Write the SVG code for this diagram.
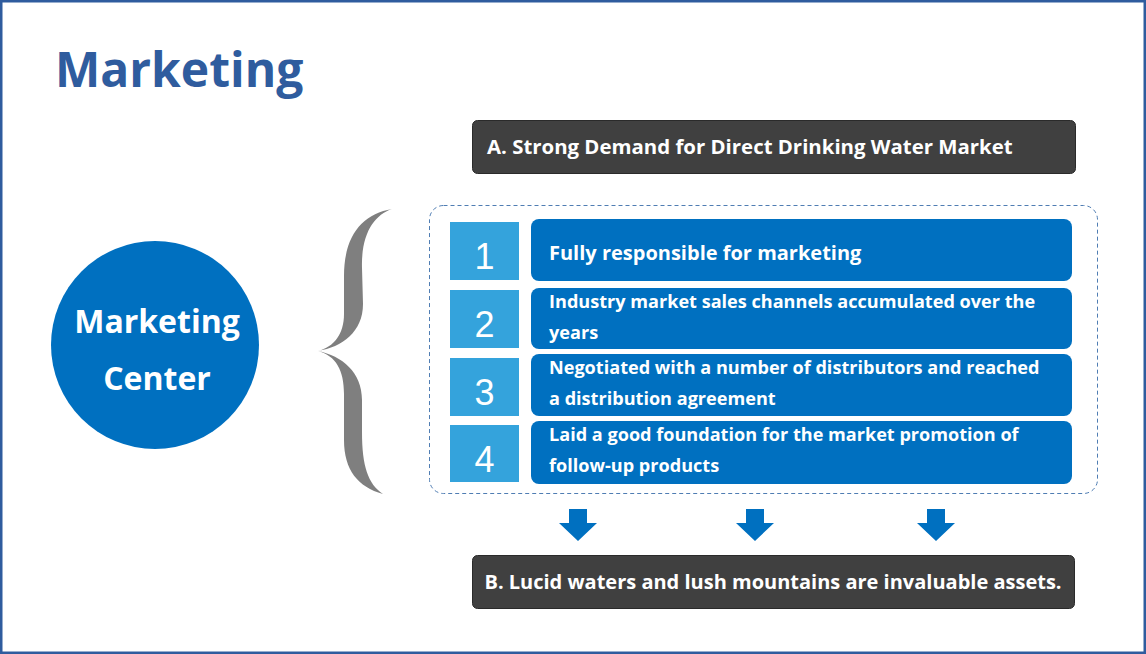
<svg xmlns="http://www.w3.org/2000/svg" width="1146" height="654" viewBox="0 0 1146 654">
<style>
.frame{fill:#ffffff;stroke:#2F5C9E;stroke-width:2.5}
.title{font-family:"Open Sans","Noto Sans",sans-serif;font-weight:700;font-size:48px;fill:#2F5C9E}
.dark{fill:#404040;stroke:#2a2a2a;stroke-width:1}
.darkt{font-family:"Open Sans","Noto Sans",sans-serif;font-weight:700;font-size:20px;fill:#ffffff}
.blue{fill:#0070C0}
.sq{fill:#34A3DC}
.num{font-family:"Liberation Sans",Arial,sans-serif;font-size:36px;fill:#ffffff;text-anchor:middle}
.bt{font-family:"Open Sans","Noto Sans",sans-serif;font-weight:700;font-size:18.1px;fill:#ffffff}
.bt1{font-size:20px}
.ta{font-size:20.4px}
.ct{font-family:"Open Sans","Noto Sans",sans-serif;font-weight:700;font-size:32px;fill:#ffffff;text-anchor:middle}
.dash{fill:none;stroke:#4F7DB3;stroke-width:1;stroke-dasharray:4 3}
.brace{fill:#7F7F7F}
</style>
<rect class="frame" x="1.25" y="1.25" width="1143.5" height="651.5"/>
<text class="title" x="55" y="87">Marketing</text>
<g id="center">
<circle class="blue" cx="155" cy="345" r="104"/>
<text class="ct" x="157" y="333">Marketing</text>
<text class="ct" x="157" y="390">Center</text>
</g>
<g id="brace">
<path class="brace" d="M392,209 C362,214 344,236 344,276 L344,314 C344,334 334,347 318,351 C342,347 363,332 363,304 L362,268 C361,234 374,215 392,209 Z"/>
<path class="brace" d="M318,351 C336,356 344,370 344,394 L344,440 C344,470 358,487 383,494 C368,484 362,466 362,432 L362,400 C362,372 342,356 318,351 Z"/>
</g>
<g id="boxA">
<rect class="dark" x="472.5" y="120.5" width="603" height="53" rx="5"/>
<text class="darkt ta" x="487" y="154">A. Strong Demand for Direct Drinking Water Market</text>
</g>
<g id="group">
<rect class="dash" x="429.5" y="205.5" width="668" height="288" rx="14"/>
</g>
<g id="item1">
<rect class="sq" x="450" y="222" width="69" height="58"/>
<text class="num" x="484.5" y="269">1</text>
<rect class="blue" x="531" y="219" width="541" height="62" rx="8"/>
<text class="bt bt1" x="549" y="260">Fully responsible for marketing</text>
</g>
<g id="item2">
<rect class="sq" x="450" y="290" width="69" height="58"/>
<text class="num" x="484.5" y="337">2</text>
<rect class="blue" x="531" y="288" width="541" height="61" rx="8"/>
<text class="bt" x="549" y="308">Industry market sales channels accumulated over the</text>
<text class="bt" x="549" y="339">years</text>
</g>
<g id="item3">
<rect class="sq" x="450" y="358" width="69" height="58"/>
<text class="num" x="484.5" y="405">3</text>
<rect class="blue" x="531" y="354" width="541" height="62" rx="8"/>
<text class="bt" x="549" y="374">Negotiated with a number of distributors and reached</text>
<text class="bt" x="549" y="405">a distribution agreement</text>
</g>
<g id="item4">
<rect class="sq" x="450" y="425" width="69" height="57"/>
<text class="num" x="484.5" y="472">4</text>
<rect class="blue" x="531" y="421" width="541" height="63" rx="8"/>
<text class="bt" x="549" y="441">Laid a good foundation for the market promotion of</text>
<text class="bt" x="549" y="472">follow-up products</text>
</g>
<g id="connectors">
<path class="blue" d="M569,509 H587 V523 H597 L578,541 L559,523 H569 Z"/>
<path class="blue" d="M746,509 H764 V523 H774 L755,541 L736,523 H746 Z"/>
<path class="blue" d="M927,509 H945 V523 H955 L936,541 L917,523 H927 Z"/>
</g>
<g id="boxB">
<rect class="dark" x="472.5" y="555.5" width="602" height="53" rx="5"/>
<text class="darkt" x="773" y="589" text-anchor="middle">B. Lucid waters and lush mountains are invaluable assets.</text>
</g>
</svg>
